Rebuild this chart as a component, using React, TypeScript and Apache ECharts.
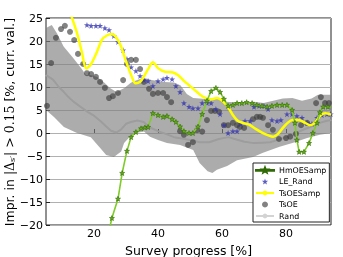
import React, { useEffect, useRef } from 'react';
import * as echarts from 'echarts';

const xTicks = [20, 40, 60, 80];
const X_MIN = 5;
const X_MAX = 94.06;
const Y_MIN = -20;
const Y_MAX = 25;

const bandUpper: [number, number][] = [
  [5, 22.8], [6.8, 23.5], [8.5, 21.6], [10.5, 18.8], [13.5, 16.3], [16, 14.1], [17.5, 12.6], [19, 12.6],
  [21, 12.2], [23, 11.1], [25, 9.8], [27, 8.9], [29.5, 9.8], [31.5, 10.9], [33.5, 11.5], [35.5, 12.0],
  [38, 11.5], [42, 11.1], [45, 11.0], [47, 10.4], [49, 8.5], [51, 7.6], [55, 7.4], [58, 7.6], [61, 6.8],
  [64, 6.7], [67, 6.5], [70, 6.8], [73, 6.5], [76, 7.0], [79, 7.5], [82, 7.6], [85, 7.0], [88, 7.5],
  [90, 8.3], [94.1, 8.3],
];

const bandLower: [number, number][] = [
  [5, 5.0], [7.5, 3.5], [10.6, 1.3], [14.7, 0.0], [19, -0.9], [22.2, -3.5], [23.8, -4.8], [26.2, -5.2],
  [28.5, -4.0], [29.4, -2.2], [31, -1.0], [33, 0.0], [35.6, 0.3], [37.5, -0.8], [40, -1.5], [42.8, -2.2],
  [46.9, -2.6], [51, -3.7], [53, -6.5], [55.5, -8.3], [57, -8.7], [58.4, -8.0], [61.6, -7.2], [64.7, -5.9],
  [69.7, -5.2], [72.8, -4.3], [78, -3.0], [82, -2.2], [86.6, -1.1], [90.6, -0.4], [94.1, 0.0],
];

const randMean: [number, number][] = [
  [5, 12.6], [7.2, 11.6], [9, 10], [10.6, 8.9], [12, 7.8], [13.8, 6.7], [16, 5.6], [18, 4.6], [19.7, 3.9],
  [22, 2.6], [24, 1.3], [25.3, 0.5], [27, 0.1], [28.5, 0.8], [30, 2.0], [31.5, 2.4], [33.5, 2.7], [35.5, 2.4],
  [37.5, 1.2], [40, 0.4], [42.8, -0.3], [45, -0.9], [47.5, -1.2], [50, -1.5], [53, -2.0], [56, -2.0],
  [59, -1.3], [62, -0.9], [64.5, -1.4], [67, -1.9], [70, -2.2], [72.5, -2.1], [75, -2.0], [77.5, -1.5],
  [80, -0.9], [82.5, -0.2], [85, 0.6], [87.5, 1.3], [90, 2.1], [92.5, 2.6], [94.1, 2.8],
];

const tsOE: [number, number][] = [
  [5.3, 5.9], [6.6, 15.2], [8.1, 20.7], [9.7, 22.6], [10.9, 23.3], [12.5, 22.0], [13.8, 20.2], [15.0, 17.2],
  [16.6, 15.0], [17.8, 13.0], [19.1, 12.8], [20.6, 12.2], [21.9, 11.1], [23.4, 9.8], [24.7, 7.6], [25.9, 8.0],
  [27.5, 8.7], [29.1, 11.5], [30.3, 15.0], [31.6, 15.9], [33.1, 15.9], [34.4, 13.9], [35.6, 11.1], [37.2, 9.6],
  [38.4, 8.5], [40.0, 8.7], [41.6, 8.7], [42.8, 7.8], [44.1, 6.7], [46.9, 0.4], [48.1, -0.4], [49.4, -2.6],
  [50.9, -2.0], [52.2, 0.6], [53.8, 0.3], [55.3, 2.8], [56.6, 4.8], [57.8, 4.8], [59.1, 4.6], [60.6, 1.7],
  [61.9, 1.7], [63.4, 2.2], [64.7, 1.7], [65.6, 1.3], [66.9, 1.1], [69.7, 3.0], [70.9, 3.5], [71.9, 3.5],
  [72.8, 3.3], [74.4, 1.7], [75.9, 0.7], [77.8, -1.3], [80.0, -1.1], [81.3, -0.8], [83.1, -0.2], [84.7, 1.7],
  [86.6, 2.2], [89.4, 6.5], [90.9, 7.8], [92.2, 6.5], [93.4, 6.5],
];

const leRand: [number, number][] = [
  [16.3, 25.1], [17.8, 23.5], [19.1, 23.3], [20.6, 23.3], [21.9, 23.3], [23.4, 22.8], [24.7, 22.4], [26.2, 21.1],
  [27.5, 19.8], [29.1, 18.0], [30.3, 16.1], [31.6, 14.3], [33.1, 13.5], [34.4, 12.4], [35.6, 11.5], [36.9, 11.3],
  [38.4, 10.2], [40.0, 11.3], [41.6, 11.7], [42.8, 12.0], [44.4, 11.7], [45.6, 10.2], [46.9, 8.9], [48.1, 6.5],
  [49.7, 5.7], [50.9, 5.4], [52.5, 5.4], [53.8, 6.5], [55.3, 6.5], [56.6, 6.5], [58.1, 5.2], [59.4, 4.1],
  [60.6, 1.7], [61.9, 0.0], [63.4, 0.4], [64.7, 0.4], [65.9, 2.0], [67.2, 2.6], [68.8, 2.6], [70.0, 5.7],
  [71.6, 5.9], [73.1, 5.9], [74.4, 5.2], [75.6, 2.8], [77.2, 2.6], [78.4, 2.8], [80.3, 4.1], [81.9, 4.1],
  [83.4, 3.7], [85.0, 3.3], [86.6, 2.2], [88.1, 2.0], [89.7, 3.3], [91.2, 3.9], [92.8, 4.1], [94.0, 4.1],
];

const tsOESamp: [number, number][] = [
  [12.4, 26.5], [14.7, 21.7], [16.2, 17.6], [17.6, 14.0], [19.1, 15.0], [20.9, 17.6], [22.5, 20.3], [24.0, 21.2],
  [25.5, 21.5], [27.0, 20.7], [28.4, 18.9], [30.0, 15.6], [31.6, 12.6], [33.0, 10.8], [34.5, 11.2], [35.6, 12.3],
  [37.0, 14.0], [38.4, 15.4], [40.0, 14.1], [42.2, 13.3], [44.4, 13.2], [46.2, 12.6], [48.0, 11.4], [49.5, 10.5],
  [52.2, 8.9], [54.0, 7.9], [56.5, 7.3], [58.4, 7.6], [60.3, 6.9], [62.0, 5.5], [63.5, 3.8], [65.0, 2.6],
  [66.5, 2.2], [68.5, 1.8], [70.5, 0.9], [72.5, 0.1], [74.5, -0.5], [76.0, -0.8], [77.5, -0.2], [79.0, 1.1],
  [80.5, 2.2], [82.0, 2.8], [84.0, 2.8], [86.0, 2.2], [87.5, 1.7], [89.0, 2.2], [90.6, 3.7], [92.2, 4.3],
  [94.1, 4.0],
];

const hmOESamp: [number, number][] = [
  [24.6, -21.5], [25.6, -18.5], [27.5, -14.3], [28.8, -8.7], [30.3, -3.9], [31.6, -0.9], [33.1, 0.2], [34.7, 1.0],
  [35.9, 1.2], [36.9, 1.3], [38.4, 4.3], [40.0, 3.9], [41.6, 3.5], [42.8, 3.7], [44.4, 3.0], [45.6, 2.4],
  [46.9, 1.4], [48.1, 0.4], [49.7, 0.0], [50.9, 0.0], [52.5, 1.4], [53.8, 4.1], [55.3, 7.0], [56.6, 9.1],
  [58.1, 9.8], [59.4, 8.9], [60.6, 7.4], [61.9, 5.9], [63.4, 6.1], [64.7, 6.5], [66.2, 6.5], [67.7, 6.7],
  [69.4, 6.5], [70.9, 6.1], [72.5, 5.9], [74.1, 5.7], [75.6, 5.9], [77.2, 6.1], [78.8, 6.1], [80.3, 6.1],
  [81.9, 5.0], [82.8, 2.2], [83.4, -1.5], [84.1, -4.1], [85.6, -4.1], [87.2, -2.2], [88.4, 0.0], [89.7, 2.2],
  [90.6, 4.5], [91.6, 5.7], [93.1, 5.7], [94.1, 5.7],
];

const yTitle = '{t|Impr. in }{m||Δ}{s|s′}{m|| > 0.15 }{t|[%, curr. val.]}';

const STAR =
  'path://M0,-10L2.35,-3.24L9.51,-3.09L3.8,1.24L5.88,8.09L0,4L-5.88,8.09L-3.8,1.24L-9.51,-3.09L-2.35,-3.24Z';
const LINE_STAR =
  'path://M0,2.6L18,2.6L18,3.4L0,3.4Z M9,0.2L9.7,2.06L11.66,2.1L10.1,3.28L10.66,5.15L9,4.05L7.34,5.15L7.9,3.28L6.34,2.1L8.3,2.06Z';

const FONT = 'DejaVu Sans';

export default function App() {
  const ref = useRef<HTMLDivElement>(null);
  useEffect(() => {
    if (!ref.current) return;
    const chart = echarts.init(ref.current, null, { renderer: 'svg' });
    const fmt = (v: number) => (v < 0 ? '\u2212' + Math.abs(v) : String(v));
    chart.setOption({
      animation: false,
      textStyle: { fontFamily: FONT },
      grid: {
        left: 46, top: 18, right: 12, bottom: 32,
        outerBoundsMode: 'none',
        containLabel: false,
        show: true, borderColor: '#222', borderWidth: 1, backgroundColor: 'transparent',
      },
      graphic: [
        {
          type: 'text', x: 9, y: 122, rotation: Math.PI / 2, silent: true,
          style: {
            text: yTitle, align: 'center', verticalAlign: 'middle', fill: '#000',
            rich: {
              t: { fontSize: 12.5, fontFamily: FONT, fill: '#000' },
              m: { fontSize: 12.5, fontFamily: 'DejaVu Serif', fill: '#000' },
              s: { fontSize: 8, fontFamily: 'DejaVu Serif', fill: '#000', padding: [6, 0, 0, 0] },
            },
          },
        },
      ],
      legend: {
        orient: 'vertical', left: 253, top: 163,
        data: [
          { name: 'HmOESamp', icon: LINE_STAR, itemStyle: { color: '#6cbf22' } },
          { name: 'LE_Rand' },
          { name: 'TsOESamp' },
          { name: 'TsOE' },
          { name: 'Rand' },
        ],
        itemWidth: 18, itemHeight: 6, itemGap: 1.5,
        padding: [2, 3, 1, 2],
        borderColor: '#222', borderWidth: 1, borderRadius: 0, backgroundColor: '#fff',
        textStyle: { fontSize: 7.9, fontFamily: FONT, color: '#000', lineHeight: 10 },
      },
      xAxis: {
        type: 'value', min: X_MIN, max: X_MAX,
        name: 'Survey progress [%]', nameLocation: 'middle', nameGap: 15,
        nameTextStyle: { fontSize: 12.5, color: '#000', fontFamily: FONT },
        axisLine: { show: false },
        axisTick: { show: true, inside: true, length: 4, customValues: xTicks, lineStyle: { color: '#222' } },
        axisLabel: { customValues: xTicks, fontSize: 11, margin: 3, color: '#000', fontFamily: FONT },
        splitLine: { show: false },
      },
      yAxis: {
        type: 'value', min: Y_MIN, max: Y_MAX, interval: 5,
        axisLine: { show: false },
        axisTick: { show: true, inside: true, length: 4, lineStyle: { color: '#222' } },
        axisLabel: { fontSize: 11, margin: 3, color: '#000', fontFamily: FONT, formatter: fmt },
        splitLine: { show: true, lineStyle: { color: '#b0b0b0', width: 1 } },
      },
      series: [
        {
          name: 'Rand', type: 'line', data: randMean, z: 1, symbol: 'none',
          lineStyle: { color: '#d3d3d3', width: 2 }, itemStyle: { color: '#d3d3d3' },
        },
        {
          name: 'band', type: 'custom', z: 2, silent: true, data: [[50, 0]],
          renderItem: (_p: any, api: any) => {
            const pts = [
              ...bandUpper.map((p) => api.coord(p)),
              ...bandLower.slice().reverse().map((p) => api.coord(p)),
            ];
            return { type: 'polygon', shape: { points: pts }, style: { fill: 'rgba(128,128,128,0.65)' } };
          },
        },
        {
          name: 'TsOE', type: 'scatter', data: tsOE, z: 3, symbol: 'circle', symbolSize: 6,
          itemStyle: { color: 'rgba(60,60,60,0.8)' },
        },
        {
          name: 'LE_Rand', type: 'scatter', data: leRand, z: 4, symbol: STAR, symbolSize: 6,
          itemStyle: { color: '#3535b0' },
        },
        {
          name: 'TsOESamp', type: 'line', data: tsOESamp, z: 5, symbol: 'none', smooth: 0.3,
          lineStyle: { color: '#ffff00', width: 2.5 }, itemStyle: { color: '#ffff00' },
        },
        {
          name: 'HmOESamp', type: 'line', data: hmOESamp, z: 6, symbol: STAR, symbolSize: 5, showSymbol: true,
          lineStyle: { color: '#7fcc29', width: 1.6 },
          itemStyle: { color: '#6aab1e', borderColor: '#2f6a05', borderWidth: 0.6 },
        },
      ],
    });
    return () => chart.dispose();
  }, []);
  return <div ref={ref} style={{ position: 'fixed', left: 0, top: 0, width: 343, height: 257 }} />;
}
